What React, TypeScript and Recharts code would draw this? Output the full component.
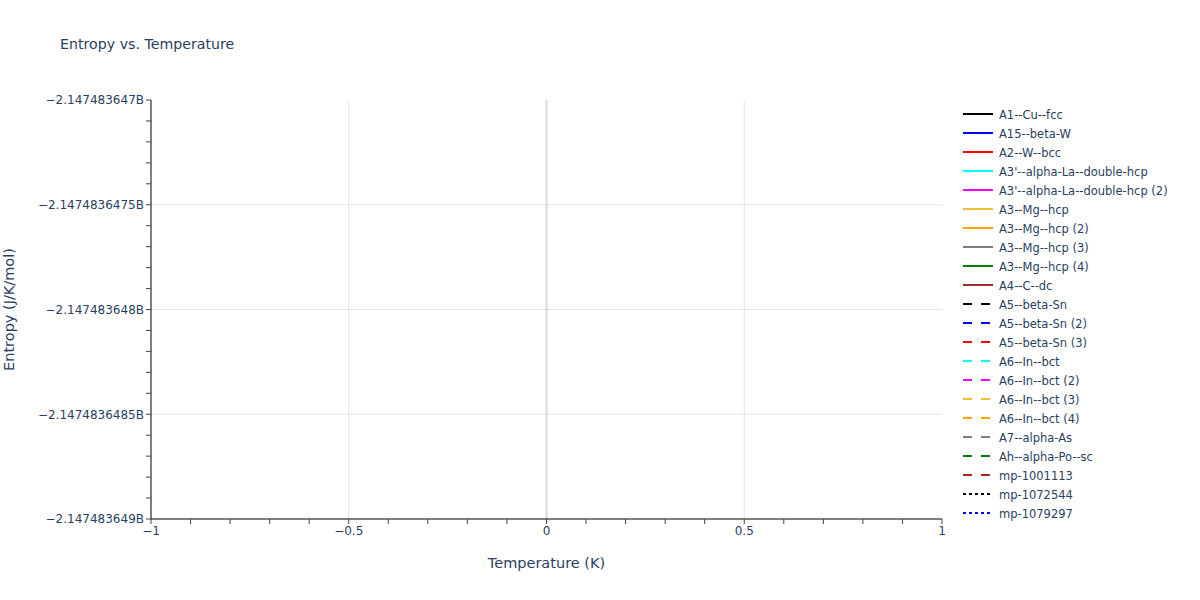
import React from 'react';
import { LineChart, Line, XAxis, YAxis, ReferenceLine, Label } from 'recharts';

const seriesNames = [
  'A1--Cu--fcc', 'A15--beta-W', 'A2--W--bcc', "A3'--alpha-La--double-hcp", "A3'--alpha-La--double-hcp (2)",
  'A3--Mg--hcp', 'A3--Mg--hcp (2)', 'A3--Mg--hcp (3)', 'A3--Mg--hcp (4)', 'A4--C--dc',
  'A5--beta-Sn', 'A5--beta-Sn (2)', 'A5--beta-Sn (3)', 'A6--In--bct', 'A6--In--bct (2)',
  'A6--In--bct (3)', 'A6--In--bct (4)', 'A7--alpha-As', 'Ah--alpha-Po--sc', 'mp-1001113',
  'mp-1072544', 'mp-1079297',
];
const seriesColors = [
  '#000000', '#0000ff', '#ff0000', '#00ffff', '#ff00ff',
  '#efc232', '#ffa500', '#808080', '#008000', '#a52a2a',
  '#000000', '#0000ff', '#ff0000', '#00ffff', '#ff00ff',
  '#efc232', '#ffa500', '#808080', '#008000', '#a52a2a',
  '#000000', '#0000ff',
];
const seriesDash = [
  '', '', '', '', '', '', '', '', '', '',
  '9 9', '9 9', '9 9', '9 9', '9 9', '9 9', '9 9', '9 9', '9 9', '9 9',
  '3 3', '3 3',
];
const temperatures = [0];
const entropies = [-2147483648];

const xMajorTicks = [-1, -0.5, 0, 0.5, 1];
const xTickLabels = ['\u22121', '\u22120.5', '0', '0.5', '1'];
const xAllTicks = [-1, -0.9, -0.8, -0.7, -0.6, -0.5, -0.4, -0.3, -0.2, -0.1, 0, 0.1, 0.2, 0.3, 0.4, 0.5, 0.6, 0.7, 0.8, 0.9, 1];
const yMajorTicks = [-2147483649, -2147483648.5, -2147483648, -2147483647.5, -2147483647];
const yTickLabels = ['\u22122.147483649B', '\u22122.1474836485B', '\u22122.147483648B', '\u22122.1474836475B', '\u22122.147483647B'];
const yAllTicks = [
  -2147483649, -2147483648.9, -2147483648.8, -2147483648.7, -2147483648.6,
  -2147483648.5, -2147483648.4, -2147483648.3, -2147483648.2, -2147483648.1,
  -2147483648, -2147483647.9, -2147483647.8, -2147483647.7, -2147483647.6,
  -2147483647.5, -2147483647.4, -2147483647.3, -2147483647.2, -2147483647.1,
  -2147483647,
];
const xGrid = [-0.5, 0.5];
const yGrid = [-2147483648.5, -2147483648, -2147483647.5];

const seriesData = seriesNames.map(() => temperatures.map((t, i) => ({ T: t, S: entropies[i] })));

const FONT = '"DejaVu Sans", Verdana, sans-serif';
const TEXT = '#2a3f5f';

const fmt = (majors: number[], labels: string[]) => (v: number) => {
  const idx = majors.findIndex((m) => Math.abs(m - v) < 1e-6);
  return idx >= 0 ? labels[idx] : '';
};

const LegendBox = () => (
  <svg width={235} height={seriesNames.length * 19 + 10}
    style={{ position: 'absolute', left: 960, top: 104, fontFamily: FONT }}>
    {seriesNames.map((name, i) => (
      <g key={name} transform={`translate(0, ${10 + i * 19})`}>
        <line x1={3} x2={33} y1={0} y2={0} stroke={seriesColors[i]} strokeWidth={2}
          strokeDasharray={seriesDash[i] || undefined} />
        <text x={39} y={4.5} fontSize={11.5} fill={TEXT}>{name}</text>
      </g>
    ))}
  </svg>
);

const NoDot = (p: any) => <g key={p.key ?? p.index} />;

export default function App() {
  return (
    <div style={{ position: 'absolute', left: 0, top: 0, width: 1200, height: 600, background: '#fff', fontFamily: FONT }}>
      <div style={{ position: 'absolute', left: 60, top: 36, fontSize: 14.2, lineHeight: '17px', color: TEXT, fontFamily: FONT }}>
        Entropy vs. Temperature
      </div>
      <LineChart width={1200} height={600} margin={{ top: 100, right: 258, bottom: 51, left: 51 }}>
        {xGrid.map((x) => (
          <ReferenceLine key={'gx' + x} x={x} stroke="#e5e5e5" strokeWidth={1} />
        ))}
        {yGrid.map((y) => (
          <ReferenceLine key={'gy' + y} y={y} stroke="#e5e5e5" strokeWidth={1} />
        ))}
        <ReferenceLine x={0} stroke="#dadada" strokeWidth={2} />
        <XAxis
          dataKey="T"
          type="number"
          domain={[-1, 1]}
          ticks={xAllTicks}
          interval={0}
          allowDataOverflow
          tickFormatter={fmt(xMajorTicks, xTickLabels)}
          tick={{ fill: TEXT, fontSize: 12, fontFamily: FONT }}
          tickSize={5}
          tickLine={{ stroke: '#444' }}
          axisLine={{ stroke: '#000' }}
          height={30}
        >
          <Label value="Temperature (K)" position="bottom" offset={9} style={{ fill: TEXT, fontSize: 14.5, fontFamily: FONT }} />
        </XAxis>
        <YAxis
          dataKey="S"
          type="number"
          domain={[-2147483649, -2147483647]}
          ticks={yAllTicks}
          interval={0}
          allowDataOverflow
          tickFormatter={fmt(yMajorTicks, yTickLabels)}
          tick={{ fill: TEXT, fontSize: 12, fontFamily: FONT }}
          tickSize={5}
          tickLine={{ stroke: '#444' }}
          axisLine={{ stroke: '#000' }}
          width={100}
        >
          <Label value="Entropy (J/K/mol)" angle={-90} position="insideLeft" offset={-42} style={{ fill: TEXT, fontSize: 14.5, fontFamily: FONT, textAnchor: 'middle' }} />
        </YAxis>
        {seriesNames.map((name, i) => (
          <Line
            key={name}
            data={seriesData[i]}
            dataKey="S"
            name={name}
            stroke={seriesColors[i]}
            strokeWidth={2}
            strokeDasharray={seriesDash[i] || undefined}
            dot={NoDot}
            activeDot={false}
            isAnimationActive={false}
          />
        ))}
      </LineChart>
      <LegendBox />
    </div>
  );
}
